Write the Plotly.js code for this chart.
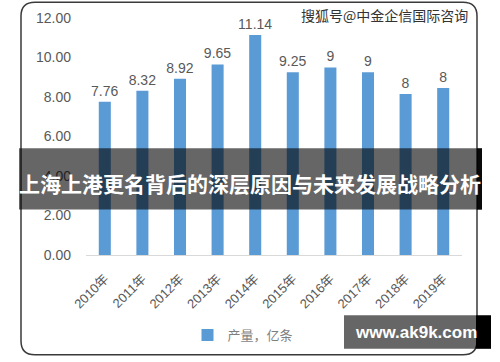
<!DOCTYPE html>
<html>
<head>
<meta charset="utf-8">
<script src="https://cdn.plot.ly/plotly-3.0.1.min.js"></script>
<style>html,body{margin:0;padding:0;background:#fff;}#chart{width:500px;height:362px;}</style>
</head>
<body>
<div id="chart"></div>
<script>
// Data
const years = ["2010年","2011年","2012年","2013年","2014年","2015年","2016年","2017年","2018年","2019年"];
const output = [7.76, 8.32, 8.92, 9.65, 11.14, 9.25, 9.5, 9.25, 8.15, 8.45];
const labels = ["7.76","8.32","8.92","9.65","11.14","9.25","9","9","8","8"];
const seriesName = "产量，亿条";
const bannerText = "上海上港更名背后的深层原因与未来发展战略分析";
const watermark = "搜狐号@中金企信国际咨询";
const siteText = "www.ak9k.com";

// Plot area in pixels (for decoration placement)
const W = 500, H = 362, L = 86, R = 462, T = 18, B = 258;
const fx = px => (px - L) / (R - L);
const fy = py => (B - py) / (B - T);

function roundRect(x0, y0, x1, y1, r) {
  const p = (x, y) => fx(x) + "," + fy(y);
  return "M" + p(x0 + r, y0) + " L" + p(x1 - r, y0) +
    " Q" + p(x1, y0) + " " + p(x1, y0 + r) +
    " L" + p(x1, y1 - r) + " Q" + p(x1, y1) + " " + p(x1 - r, y1) +
    " L" + p(x0 + r, y1) + " Q" + p(x0, y1) + " " + p(x0, y1 - r) +
    " L" + p(x0, y0 + r) + " Q" + p(x0, y0) + " " + p(x0 + r, y0) + " Z";
}

const trace = {
  type: "bar",
  x: years,
  y: output,
  name: seriesName,
  text: labels,
  textposition: "outside",
  constraintext: "none",
  textfont: {size: 14, color: "#595959", family: "Liberation Sans, Arial, sans-serif"},
  cliponaxis: false,
  marker: {color: "#5b9bd5"},
  hoverinfo: "x+y"
};

const layout = {
  width: W, height: H,
  margin: {l: L, r: W - R, t: T, b: H - B},
  paper_bgcolor: "#ffffff",
  plot_bgcolor: "#ffffff",
  font: {family: "Liberation Sans, Noto Sans CJK SC, sans-serif", color: "#595959"},
  bargap: 0.68,
  showlegend: true,
  legend: {
    orientation: "h",
    x: fx(243), xanchor: "center",
    y: fy(339), yanchor: "middle",
    font: {size: 13, color: "#7f7f7f", family: "Noto Sans CJK SC, sans-serif"},
    bgcolor: "rgba(0,0,0,0)"
  },
  xaxis: {
    type: "category",
    tickangle: -45,
    tickfont: {size: 13, color: "#595959"},
    showline: true, linecolor: "#d9d9d9", linewidth: 1,
    showgrid: false, ticks: "", zeroline: false,
    ticklabelstandoff: 10
  },
  yaxis: {
    range: [0, 12],
    dtick: 2, tick0: 0,
    tickformat: ".2f",
    tickfont: {size: 14, color: "#595959"},
    showgrid: false, zeroline: false, showline: false, ticks: "",
    ticklabelstandoff: 14
  },
  shapes: [
    {type: "path", xref: "paper", yref: "paper", path: roundRect(21, 2, 477, 359, 14),
     line: {color: "#3a3a3a", width: 1.5}, fillcolor: "rgba(0,0,0,0)", layer: "above"},
    {type: "rect", xref: "paper", yref: "paper", x0: fx(19), x1: fx(482), y0: fy(212), y1: fy(150),
     fillcolor: "rgba(0,0,0,0.6)", line: {width: 0}, layer: "above"},
    {type: "rect", xref: "paper", yref: "paper", x0: fx(477), x1: fx(482), y0: fy(212), y1: fy(150),
     fillcolor: "rgba(0,0,0,0.9)", line: {width: 0}, layer: "above"},
    {type: "rect", xref: "paper", yref: "paper", x0: fx(344), x1: fx(476), y0: fy(353), y1: fy(319),
     fillcolor: "rgba(0,0,0,0.6)", line: {width: 0}, layer: "above"},
    {type: "rect", xref: "paper", yref: "paper", x0: fx(476), x1: fx(491), y0: fy(353), y1: fy(319),
     fillcolor: "#000000", line: {width: 0}, layer: "above"}
  ],
  annotations: [
    {xref: "paper", yref: "paper", x: fx(250), y: fy(185), text: "<b>" + bannerText + "</b>",
     showarrow: false, xanchor: "center", yanchor: "middle",
     font: {size: 21, color: "#ffffff", family: "Noto Sans CJK SC, sans-serif"}},
    {xref: "paper", yref: "paper", x: fx(384), y: fy(15), text: watermark,
     showarrow: false, xanchor: "center", yanchor: "middle",
     font: {size: 14, color: "#333333", family: "Noto Sans CJK SC, sans-serif"}},
    {xref: "paper", yref: "paper", x: fx(416), y: fy(336), text: "<b>" + siteText + "</b>",
     showarrow: false, xanchor: "center", yanchor: "middle",
     font: {size: 17, color: "#ffffff", family: "Liberation Sans, Arial, sans-serif"}}
  ]
};

Plotly.newPlot("chart", [trace], layout, {displayModeBar: false, responsive: false});
</script>
</body>
</html>
